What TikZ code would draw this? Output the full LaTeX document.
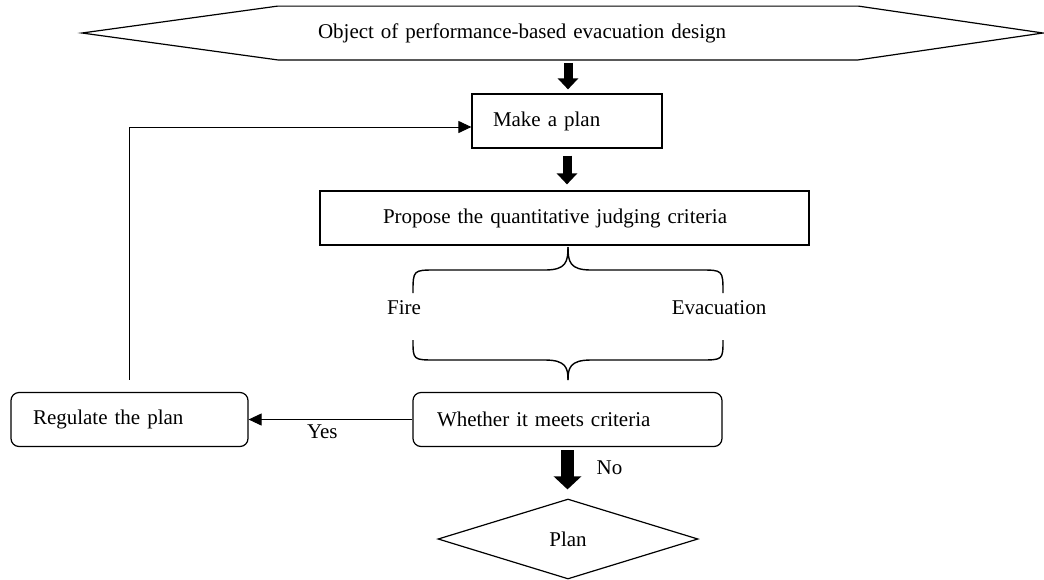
\documentclass[tikz,border=0pt]{standalone}
\usepackage{fontspec}
\setmainfont{Liberation Serif}
\usetikzlibrary{shapes.geometric,arrows.meta}
\tikzset{
  box/.style={draw, line width=0.6pt, align=left, minimum height=27pt, inner ysep=0pt},
  fatarrow/.style={line width=4.5pt, -{Triangle[width=10pt,length=5.5pt]}},
  bigarrow/.style={line width=6.5pt, -{Triangle[width=13.5pt,length=6.5pt]}},
  loopline/.style={line width=0.5pt, -{Triangle[width=6pt,length=6.5pt]}}
}
\begin{document}
\begin{tikzpicture}[x=0.5pt,y=-0.5pt,font=\fontsize{10.5}{12.6}\selectfont]
\useasboundingbox (0,0) rectangle (1044,579);

\node[text width=250pt, inner xsep=20pt, align=left, minimum height=26.5pt, inner ysep=0pt] (obj) at (568,33) {Object of performance-based evacuation design};
\coordinate (ltip) at (82,33);
\coordinate (rtip) at (1043,33);
\draw[line width=0.6pt] (obj.north west) -- (obj.north east) -- (rtip) -- (obj.south east) -- (obj.south west) -- (ltip) -- cycle;

\node[box, text width=74pt, inner xsep=10.5pt] (plan) at (567,121) {Make a plan};
\node[box, text width=181.5pt, inner xsep=31.5pt] (crit) at (564.5,218) {Propose the quantitative judging criteria};
\node[box, rounded corners=4pt, text width=96.5pt, inner xsep=11pt] (reg) at (129.5,419.5) {Regulate the plan};
\node[box, rounded corners=4pt, text width=130.5pt, inner xsep=12pt] (meet) at (567.5,419.5) {Whether it meets criteria};
\node[diamond, draw, line width=0.6pt, aspect=3.25, minimum width=130pt, minimum height=40pt, inner sep=0pt] (final) at (568,539) {Plan};

\node (fire) at (404,308) {Fire};
\node (evac) at (719,308) {Evacuation};

\draw[line width=0.7pt] (413,293) .. controls (413,270) .. (436,270) -- (545,270) .. controls (566,270) and (568,262) .. (568,247);
\draw[line width=0.7pt] (723,293) .. controls (723,270) .. (700,270) -- (591,270) .. controls (570,270) and (568,262) .. (568,247);
\draw[line width=0.7pt] (413,340) .. controls (413,360) .. (436,360) -- (545,360) .. controls (566,360) and (568,368) .. (568,380);
\draw[line width=0.7pt] (723,340) .. controls (723,360) .. (700,360) -- (591,360) .. controls (570,360) and (568,368) .. (568,380);

\draw[fatarrow] ([yshift=-1.5pt]obj.south) -- ([yshift=2pt]obj.south |- plan.north);
\draw[fatarrow] ([yshift=-3.5pt]plan.south) -- ([yshift=3pt]plan.south |- crit.north);
\draw[bigarrow] ([yshift=-1.5pt]meet.south) -- ([yshift=4.5pt]meet.south |- final.north) node[pos=0.45, right=8pt] {No};

\draw[loopline] (meet.west) -- (reg.east) node[pos=0.55, below=-1pt] {Yes};
\draw[loopline] ([yshift=6pt]reg.north) |- ([yshift=-3pt]plan.west);

\end{tikzpicture}
\end{document}
